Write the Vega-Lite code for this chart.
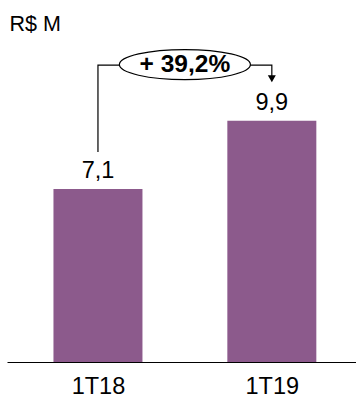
{
  "$schema": "https://vega.github.io/schema/vega-lite/v6.json",
  "autosize": {"type": "none"},
  "width": 349,
  "height": 362,
  "padding": {"left": 7, "top": 0, "right": 0, "bottom": 36},
  "background": "white",
  "config": {
    "font": "Liberation Sans",
    "view": {"stroke": null}
  },
  "datasets": {
    "barras": [
      {"periodo": "1T18", "pos": 1, "valor": 7.1, "rotulo": "7,1"},
      {"periodo": "1T19", "pos": 2, "valor": 9.9, "rotulo": "9,9"}
    ],
    "conector": [
      {"ordem": 1, "pos": 1, "valor": 8.61},
      {"ordem": 2, "pos": 1, "valor": 12.18},
      {"ordem": 3, "pos": 2, "valor": 12.18},
      {"ordem": 4, "pos": 2, "valor": 11.7}
    ],
    "seta": [{"pos": 2, "valor": 11.62}],
    "variacao": [{"pos": 1.5, "valor": 12.2, "texto": "+ 39,2%"}]
  },
  "encoding": {
    "x": {
      "field": "pos",
      "type": "quantitative",
      "scale": {"domain": [0.5056, 2.4553], "nice": false, "zero": false},
      "axis": {
        "title": null,
        "values": [1, 2],
        "labelExpr": "datum.value == 1 ? '1T18' : '1T19'",
        "grid": false,
        "ticks": false,
        "tickSize": 0,
        "domainColor": "black",
        "domainWidth": 1,
        "labelFontSize": 23.5,
        "labelColor": "black",
        "labelBaseline": "alphabetic",
        "labelPadding": 31,
        "labelFlush": false,
        "labelOverlap": false
      }
    },
    "y": {
      "field": "valor",
      "type": "quantitative",
      "scale": {"domain": [0, 14.85], "nice": false, "zero": true},
      "axis": {
        "title": "R$ M",
        "titleAngle": 0,
        "titleAlign": "left",
        "titleBaseline": "alphabetic",
        "titleX": 2,
        "titleY": 30,
        "titleFontSize": 21.5,
        "titleFontWeight": "normal",
        "titleColor": "black",
        "domain": false,
        "ticks": false,
        "labels": false,
        "grid": false
      }
    }
  },
  "layer": [
    {
      "data": {"name": "barras"},
      "mark": {"type": "bar", "orient": "vertical", "width": 89, "color": "#8C5A8C"}
    },
    {
      "data": {"name": "barras"},
      "mark": {"type": "text", "baseline": "alphabetic", "align": "center", "dy": -11, "fontSize": 23.5, "color": "black"},
      "encoding": {"text": {"field": "rotulo"}}
    },
    {
      "data": {"name": "conector"},
      "mark": {"type": "line", "color": "black", "strokeWidth": 1.2},
      "encoding": {"order": {"field": "ordem", "type": "quantitative"}}
    },
    {
      "data": {"name": "seta"},
      "mark": {"type": "point", "shape": "M -1 -0.85 L 1 -0.85 L 0 0.85 Z", "size": 64, "filled": true, "fill": "black", "stroke": null, "opacity": 1}
    },
    {
      "data": {"name": "variacao"},
      "mark": {"type": "point", "shape": "M -1 0 A 1 0.23 0 1 0 1 0 A 1 0.23 0 1 0 -1 0 Z", "size": 17161, "filled": true, "fill": "white", "stroke": "black", "strokeWidth": 1.2, "opacity": 1}
    },
    {
      "data": {"name": "variacao"},
      "mark": {"type": "text", "baseline": "middle", "align": "center", "fontSize": 24.5, "fontWeight": "bold", "color": "black"},
      "encoding": {"text": {"field": "texto"}}
    }
  ]
}
